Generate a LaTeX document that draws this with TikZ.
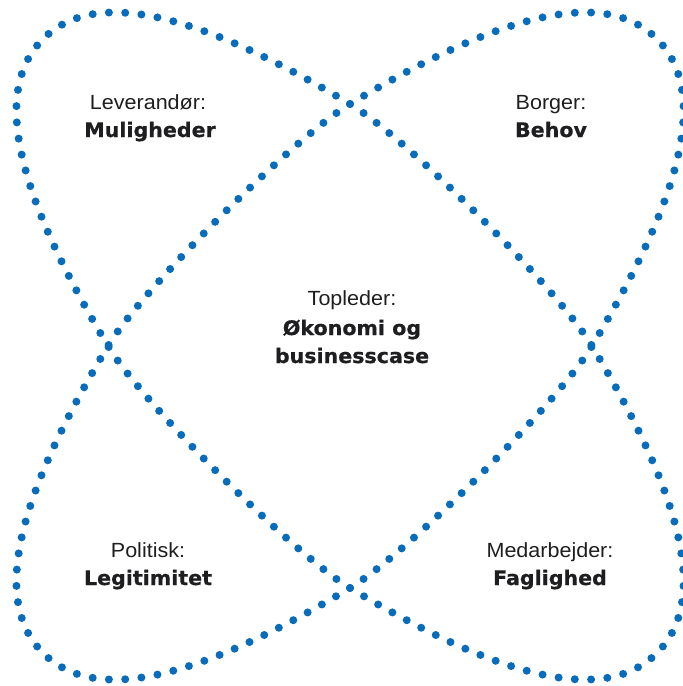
\documentclass[tikz,border=0pt]{standalone}
\usepackage{fontspec}
\usetikzlibrary{decorations}
\newfontfamily\lightf[FakeStretch=1.05]{Liberation Sans}
\newfontfamily\heavyf[FakeStretch=1.03,FakeBold=0.6]{DejaVu Sans}
\definecolor{dotblue}{RGB}{8,108,186}
\definecolor{textdark}{RGB}{30,30,32}
\tikzset{
  loopline/.style={draw=dotblue, line width=8pt, line cap=round,
    dash pattern=on 0pt off 16.2pt, dash expand off},
  toplabel/.style={anchor=base, inner sep=0pt, text=textdark,
    font=\lightf\fontsize{20.5}{24}\selectfont},
  mainlabel/.style={anchor=base, inner sep=0pt, text=textdark,
    font=\heavyf\bfseries\fontsize{20}{24}\selectfont}
}
\newcommand{\mylooppath}{%
  (0,-242) .. controls (56.6,-208.1) and (208.1,-56.6) .. (242,0)
  .. controls (324.2,137.1) and (363.6,250.4) .. (307,307)
  .. controls (250.4,363.6) and (137.1,324.2) .. (0,242)
  .. controls (-56.6,208.1) and (-208.1,56.6) .. (-242,0)
  .. controls (-324.2,-137.1) and (-363.6,-250.4) .. (-307,-307)
  .. controls (-250.4,-363.6) and (-137.1,-324.2) .. (0,-242)}
\begin{document}
\begin{tikzpicture}[x=1pt, y=-1pt]
  \useasboundingbox (0,0) rectangle (683,686);
  \begin{scope}[shift={(350,346)}]
    \draw[loopline] \mylooppath;
    \begin{scope}[xscale=-1]
      \draw[loopline] \mylooppath;
    \end{scope}
  \end{scope}
  \node[toplabel]  (lev) at (148,109) {Leverandør:};
  \node[mainlabel] (mul) at (150,137) {Muligheder};
  \node[toplabel]  (bor) at (551,109) {Borger:};
  \node[mainlabel] (beh) at (551,137) {Behov};
  \node[toplabel]  (top) at (352,305) {Topleder:};
  \node[mainlabel] (oko) at (352,335) {Økonomi og};
  \node[mainlabel] (bus) at (352,363) {businesscase};
  \node[toplabel]  (pol) at (148,557) {Politisk:};
  \node[mainlabel] (leg) at (148,585) {Legitimitet};
  \node[toplabel]  (med) at (550,557) {Medarbejder:};
  \node[mainlabel] (fag) at (550,585) {Faglighed};
\end{tikzpicture}
\end{document}
